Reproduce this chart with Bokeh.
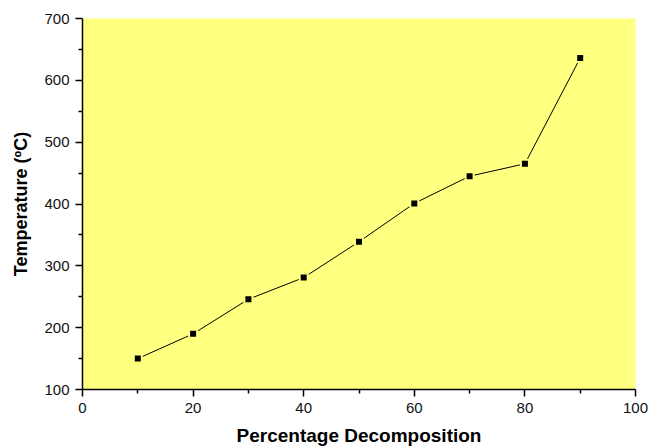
from bokeh.plotting import figure
from bokeh.models import FixedTicker, Range1d
from bokeh.embed import file_html
from bokeh.resources import INLINE

decomposition = [10, 20, 30, 40, 50, 60, 70, 80, 90]
temperature = [150, 190, 246, 281, 339, 401, 445, 465, 636]

p = figure(width=650, height=448, output_backend="svg", toolbar_location=None,
           x_range=Range1d(0, 100), y_range=Range1d(100, 700),
           min_border_left=82, min_border_top=18, min_border_right=15, min_border_bottom=59)
p.background_fill_color = "#FFFF80"
p.border_fill_color = "white"
p.outline_line_color = None
p.grid.visible = False

p.line(decomposition, temperature, line_color="black", line_width=1)
p.scatter(decomposition, temperature, marker="square", size=8, fill_color="black",
          line_color="#FFFF80", line_width=2)

for ax in (p.xaxis[0], p.yaxis[0]):
    ax.axis_line_width = 1.5
    ax.axis_line_color = "black"
    ax.major_tick_line_width = 1.5
    ax.minor_tick_line_width = 1.5
    ax.major_tick_line_color = "black"
    ax.minor_tick_line_color = "black"
    ax.major_tick_out = 7
    ax.major_tick_in = 0
    ax.minor_tick_out = 4
    ax.minor_tick_in = 0
    ax.major_label_text_font = "Liberation Sans"
    ax.major_label_text_font_size = "15px"
    ax.major_label_text_color = "#111111"
    ax.axis_label_text_font = "Liberation Sans"
    ax.axis_label_text_font_style = "bold"
    ax.axis_label_text_color = "black"

p.xaxis.ticker = FixedTicker(ticks=[0, 20, 40, 60, 80, 100], minor_ticks=[10, 30, 50, 70, 90])
p.yaxis.ticker = FixedTicker(ticks=[100, 200, 300, 400, 500, 600, 700],
                             minor_ticks=[150, 250, 350, 450, 550, 650])
p.xaxis.axis_label = "Percentage Decomposition"
p.yaxis.axis_label = "Temperature (\u00baC)"
p.xaxis.axis_label_text_font_size = "19px"
p.yaxis.axis_label_text_font_size = "18px"
p.xaxis.major_label_standoff = 6
p.yaxis.major_label_standoff = 6
p.xaxis.axis_label_standoff = 9
p.yaxis.axis_label_standoff = 10

open("out.html", "w").write(file_html(p, INLINE))
